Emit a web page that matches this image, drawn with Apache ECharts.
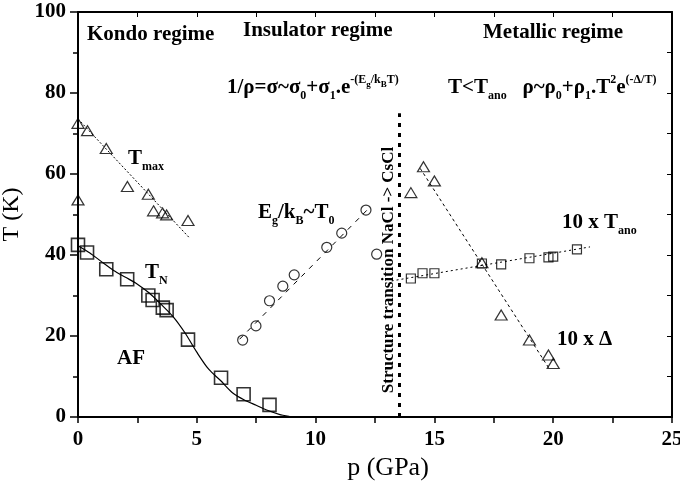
<!DOCTYPE html>
<html>
<head>
<meta charset="utf-8">
<script src="https://cdn.jsdelivr.net/npm/echarts@6/dist/echarts.min.js"></script>
<style>
  html, body { margin: 0; padding: 0; background: #fff; }
  #chart { width: 680px; height: 489px; }
</style>
</head>
<body>
<div id="chart"></div>
<script>
// T_max (Kondo) triangles + dotted fit
const tmaxP = [0, 0, 0.4, 1.19, 2.08, 2.96, 3.18, 3.56, 3.73, 4.63]
const tmaxT = [72.5, 53.6, 70.7, 66.3, 56.9, 55.0, 50.9, 50.4, 49.9, 48.5]
const tmaxFitP = [0, 4.68]
const tmaxFitT = [73.6, 44.3]

// T_N squares + solid guide curve
const tnP = [0, 0.38, 1.19, 2.07, 2.96, 3.14, 3.57, 3.73, 4.63, 6.02, 6.97, 8.06]
const tnT = [42.5, 40.6, 36.5, 34.0, 30.0, 28.9, 27.0, 26.4, 19.1, 9.7, 5.6, 3.0]
const tnCurveP = [0, 0.5, 1, 1.5, 2, 2.5, 3, 3.5, 4, 4.5, 5, 5.5, 6, 6.5, 7, 7.5, 8, 8.5, 9]
const tnCurveT = [42.3, 40.5, 38.3, 36.2, 34.5, 32.8, 30.6, 27.8, 24.8, 20.8, 16.0, 11.8, 9.0, 6.0, 4.2, 2.9, 1.6, 0.6, 0]

// Eg/kB ~ T0 circles + dashed fit
const t0P = [6.93, 7.49, 8.06, 8.62, 9.10, 10.47, 11.10, 12.12, 12.57]
const t0T = [19.0, 22.5, 28.7, 32.3, 35.1, 41.9, 45.4, 51.1, 40.2]
const t0FitP = [6.8, 12.2]
const t0FitT = [19.2, 51.3]

// 10 x Delta triangles + dashed fit
const deltaP = [14.01, 14.54, 15.0, 17.0, 17.81, 19.0, 19.8, 20.0]
const deltaT = [55.4, 61.8, 58.3, 38.1, 25.2, 19.0, 15.3, 13.2]
const deltaFitP = [14.4, 19.87]
const deltaFitT = [61.4, 11.6]

// 10 x T_ano squares + dotted fit
const tanoP = [14.01, 14.5, 15.0, 17.0, 17.81, 19.0, 19.8, 20.0, 21.0]
const tanoT = [34.2, 35.5, 35.5, 37.9, 37.7, 39.2, 39.4, 39.6, 41.4]
const tanoFitP = [13.2, 21.55]
const tanoFitT = [33.6, 42.0]

// structure transition NaCl -> CsCl
const transP = [13.53, 13.53]
const transT = [0, 75]

const pairs = (xs, ys) => xs.map((x, i) => [x, ys[i]])

const SERIF = '"Liberation Serif", "Times New Roman", serif'
const black = '#000'

const rich = {
  m: { fontFamily: SERIF, fontWeight: 'bold', fontSize: 21, lineHeight: 28, fill: black },
  s: { fontFamily: SERIF, fontWeight: 'bold', fontSize: 12, lineHeight: 12, verticalAlign: 'bottom', fill: black },
  p: { fontFamily: SERIF, fontWeight: 'bold', fontSize: 12, lineHeight: 12, verticalAlign: 'top', fill: black },
  ps: { fontFamily: SERIF, fontWeight: 'bold', fontSize: 9, lineHeight: 9, verticalAlign: 'top', padding: [6, 0, 0, 0], fill: black }
}

const label = (x, y, text) => ({
  type: 'text',
  x: x,
  y: y,
  z: 100,
  style: {
    text: text,
    rich: rich,
    fontFamily: SERIF,
    fontWeight: 'bold',
    fontSize: 21,
    fill: black,
    align: 'left',
    verticalAlign: 'middle'
  }
})

const openSymbol = { color: 'transparent', borderColor: black, borderWidth: 1.2 }
const tickFont = { fontFamily: SERIF, fontWeight: 'bold', fontSize: 21, color: black }

const chart = echarts.init(document.getElementById('chart'))

chart.setOption({
  animation: false,
  backgroundColor: '#fff',
  grid: {
    left: 78, right: 8, top: 12, bottom: 72,
    containLabel: false, outerBoundsMode: 'none'
  },
  xAxis: [
    {
      type: 'value', min: 0, max: 25, interval: 5, position: 'bottom',
      name: 'p (GPa)', nameLocation: 'middle', nameGap: 38,
      nameTextStyle: { fontFamily: SERIF, fontSize: 26, color: black, padding: [0, 0, 0, 26] },
      axisLine: { onZero: false, lineStyle: { color: black, width: 2 } },
      axisTick: { inside: false, length: 6, lineStyle: { color: black, width: 1.5 } },
      minorTick: { show: true, splitNumber: 2, length: 6, lineStyle: { color: black, width: 1.5 } },
      splitLine: { show: false },
      axisLabel: Object.assign({ margin: 12 }, tickFont)
    },
    {
      type: 'value', min: 0, max: 25, interval: 2.5, position: 'top',
      axisLine: { onZero: false, lineStyle: { color: black, width: 2 } },
      axisTick: { inside: true, length: 5, lineStyle: { color: black, width: 1 } },
      splitLine: { show: false },
      axisLabel: { show: false }
    }
  ],
  yAxis: [
    {
      type: 'value', min: 0, max: 100, interval: 20, position: 'left',
      name: 'T (K)', nameLocation: 'middle', nameGap: 51, nameRotate: 90,
      nameTextStyle: { fontFamily: SERIF, fontSize: 24, color: black },
      axisLine: { onZero: false, lineStyle: { color: black, width: 2 } },
      axisTick: { inside: false, length: 8, lineStyle: { color: black, width: 1.5 } },
      minorTick: { show: true, splitNumber: 2, length: 5, lineStyle: { color: black, width: 1.5 } },
      splitLine: { show: false },
      axisLabel: Object.assign({ margin: 12 }, tickFont)
    },
    {
      type: 'value', min: 0, max: 100, interval: 10, position: 'right',
      axisLine: { onZero: false, lineStyle: { color: black, width: 2 } },
      axisTick: { inside: true, length: 5, lineStyle: { color: black, width: 1 } },
      splitLine: { show: false },
      axisLabel: { show: false }
    }
  ],
  series: [
    {
      // keeps the top and right frame axes alive
      type: 'line', xAxisIndex: 1, yAxisIndex: 1, data: [], symbol: 'none'
    },
    {
      type: 'line', data: pairs(transP, transT), symbol: 'none',
      lineStyle: { color: black, width: 3, type: [4, 6] }
    },
    {
      type: 'line', data: pairs(tmaxFitP, tmaxFitT), symbol: 'none',
      lineStyle: { color: black, width: 1, type: [2, 2] }
    },
    {
      type: 'line', data: pairs(tnCurveP, tnCurveT), symbol: 'none', smooth: 0.3,
      lineStyle: { color: black, width: 1.2 }
    },
    {
      type: 'line', data: pairs(t0FitP, t0FitT), symbol: 'none',
      lineStyle: { color: black, width: 1, type: [5, 6] }
    },
    {
      type: 'line', data: pairs(deltaFitP, deltaFitT), symbol: 'none',
      lineStyle: { color: black, width: 1, type: [3, 3] }
    },
    {
      type: 'line', data: pairs(tanoFitP, tanoFitT), symbol: 'none',
      lineStyle: { color: black, width: 1, type: [2, 3] }
    },
    {
      type: 'scatter', data: pairs(tmaxP, tmaxT), symbol: 'triangle', symbolSize: [12, 10],
      itemStyle: openSymbol
    },
    {
      type: 'scatter', data: pairs(tnP, tnT), symbol: 'rect', symbolSize: 13,
      itemStyle: { color: 'transparent', borderColor: black, borderWidth: 1.6 }
    },
    {
      type: 'scatter', data: pairs(t0P, t0T), symbol: 'circle', symbolSize: 10,
      itemStyle: openSymbol
    },
    {
      type: 'scatter', data: pairs(deltaP, deltaT), symbol: 'triangle', symbolSize: [12, 10],
      itemStyle: openSymbol
    },
    {
      type: 'scatter', data: pairs(tanoP, tanoT), symbol: 'rect', symbolSize: 9,
      itemStyle: openSymbol
    }
  ],
  graphic: [
    label(87, 35, '{m|Kondo regime}'),
    label(243, 31, '{m|Insulator regime}'),
    label(483, 33, '{m|Metallic regime}'),
    label(227, 88, '{m|1/ρ=σ~σ}{s|0}{m|+σ}{s|1}{m|.e}{p|-(E}{ps|g}{p|/k}{ps|B}{p|T)}'),
    label(448, 88, '{m|T<T}{s|ano}{m|   ρ~ρ}{s|0}{m|+ρ}{s|1}{m|.T}{p|2}{m|e}{p|(-Δ/T)}'),
    label(128, 159, '{m|T}{s|max}'),
    label(258, 213, '{m|E}{s|g}{m|/k}{s|B}{m|~T}{s|0}'),
    label(145, 273, '{m|T}{s|N}'),
    label(117, 359, '{m|AF}'),
    label(562, 223, '{m|10 x T}{s|ano}'),
    label(557, 340, '{m|10 x Δ}'),
    {
      type: 'text', x: 389, y: 270, rotation: Math.PI / 2, z: 100,
      style: {
        text: 'Structure transition NaCl -> CsCl',
        fontFamily: SERIF, fontWeight: 'bold', fontSize: 17, fill: black,
        align: 'center', verticalAlign: 'middle'
      }
    }
  ]
})
</script>
</body>
</html>
